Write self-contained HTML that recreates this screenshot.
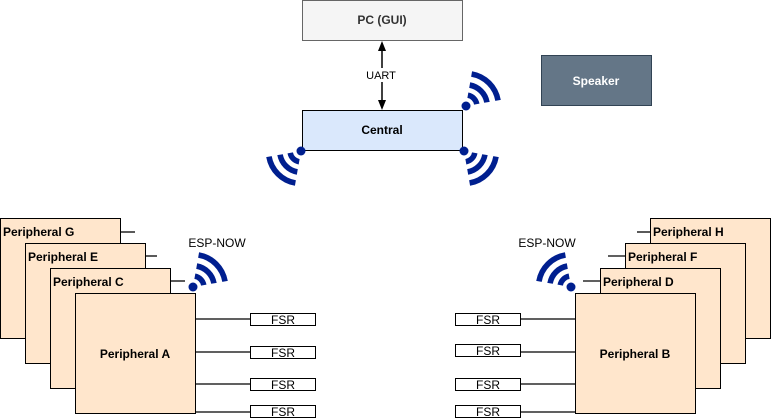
<!DOCTYPE html>
<html><head><meta charset="utf-8"><style>
body{margin:0;background:#fff;}
svg{display:block;font-family:"Liberation Sans",Arial,sans-serif;}
</style></head><body>
<svg width="771" height="420" viewBox="0 0 771 420" xmlns="http://www.w3.org/2000/svg">
<defs>
<g id="wifi">
<circle cx="0" cy="0" r="4.5" fill="#001f8f"/>
<g fill="none" stroke="#001f8f" stroke-width="5">
<path d="M1.7,-9.8 A10,10 0 0 1 9.8,-1.7" transform="scale(1.1)"/>
<path d="M3.3,-18.7 A19,19 0 0 1 18.7,-3.3" transform="scale(1.12)"/>
<path d="M5,-28.6 A29,29 0 0 1 28.6,-5" transform="scale(1.12)"/>
</g>
</g>
</defs>
<!-- PC -->
<rect x="302.5" y="0.5" width="160" height="40" fill="#f5f5f5" stroke="#666"/>
<text x="382" y="24" text-anchor="middle" font-size="12" font-weight="bold" fill="#333">PC (GUI)</text>
<!-- arrow -->
<line x1="382" y1="50" x2="382" y2="100" stroke="#000" stroke-width="1.5"/>
<path d="M382,41 L378,51 L386,51 Z" fill="#000"/>
<path d="M382,110 L378,100 L386,100 Z" fill="#000"/>
<rect x="364" y="68" width="34" height="14" fill="#fff"/>
<text x="381" y="79" text-anchor="middle" font-size="11">UART</text>
<!-- Central -->
<rect x="302.5" y="110.5" width="160" height="40" fill="#dae8fc" stroke="#000"/>
<text x="382" y="134" text-anchor="middle" font-size="12" font-weight="bold">Central</text>
<use href="#wifi" transform="translate(466,106)"/>
<use href="#wifi" transform="translate(301,151) rotate(180)"/>
<use href="#wifi" transform="translate(464,151) rotate(90)"/>
<!-- Speaker -->
<rect x="541.5" y="55.5" width="110" height="50" fill="#647687" stroke="#314354"/>
<text x="596" y="85" text-anchor="middle" font-size="12" font-weight="bold" fill="#fff">Speaker</text>
<!-- Left peripherals -->
<g stroke="#000" stroke-width="1.3">
<line x1="120" y1="232" x2="135" y2="232"/>
<line x1="145" y1="256" x2="157" y2="256"/>
<line x1="170" y1="281" x2="185" y2="281"/>
</g>
<g fill="#ffe6cc" stroke="#000">
<rect x="0.5" y="218.5" width="120" height="120"/>
<rect x="25.5" y="243.5" width="120" height="120"/>
<rect x="50.5" y="268.5" width="120" height="120"/>
<rect x="75.5" y="293.5" width="120" height="120"/>
</g>
<g font-size="12" font-weight="bold">
<text x="3" y="236">Peripheral G</text>
<text x="28" y="261">Peripheral E</text>
<text x="53" y="286">Peripheral C</text>
<text x="135" y="358" text-anchor="middle">Peripheral A</text>
</g>
<text x="217" y="247" text-anchor="middle" font-size="12">ESP-NOW</text>
<use href="#wifi" transform="translate(193,287)"/>
<g stroke="#000" stroke-width="1.3">
<line x1="196" y1="319" x2="250" y2="319"/>
<line x1="196" y1="352" x2="250" y2="352"/>
<line x1="196" y1="384" x2="250" y2="384"/>
<line x1="196" y1="412" x2="250" y2="412"/>
<line x1="520" y1="319" x2="575" y2="319"/>
<line x1="520" y1="352" x2="575" y2="352"/>
<line x1="520" y1="384" x2="575" y2="384"/>
<line x1="520" y1="412" x2="575" y2="412"/>
</g>
<g fill="#fff" stroke="#000">
<rect x="250.5" y="313.5" width="65" height="12"/>
<rect x="250.5" y="346.5" width="65" height="12"/>
<rect x="250.5" y="378.5" width="65" height="12"/>
<rect x="250.5" y="405.5" width="65" height="12"/>
<rect x="455.5" y="313.5" width="65" height="12"/>
<rect x="455.5" y="344.5" width="65" height="12"/>
<rect x="455.5" y="378.5" width="65" height="12"/>
<rect x="455.5" y="405.5" width="65" height="12"/>
</g>
<g font-size="12" text-anchor="middle">
<text x="283" y="324">FSR</text>
<text x="283" y="357">FSR</text>
<text x="283" y="389">FSR</text>
<text x="283" y="416">FSR</text>
<text x="488" y="324">FSR</text>
<text x="488" y="355">FSR</text>
<text x="488" y="389">FSR</text>
<text x="488" y="416">FSR</text>
</g>
<!-- Right peripherals -->
<g stroke="#000" stroke-width="1.3">
<line x1="637" y1="232" x2="650" y2="232"/>
<line x1="608" y1="256" x2="625" y2="256"/>
<line x1="583" y1="281" x2="600" y2="281"/>
</g>
<g fill="#ffe6cc" stroke="#000">
<rect x="650.5" y="218.5" width="120" height="120"/>
<rect x="625.5" y="243.5" width="120" height="120"/>
<rect x="600.5" y="268.5" width="120" height="120"/>
<rect x="575.5" y="293.5" width="120" height="120"/>
</g>
<g font-size="12" font-weight="bold">
<text x="653" y="236">Peripheral H</text>
<text x="628" y="261">Peripheral F</text>
<text x="603" y="286">Peripheral D</text>
<text x="635" y="358" text-anchor="middle">Peripheral B</text>
</g>
<text x="547" y="247" text-anchor="middle" font-size="12">ESP-NOW</text>
<use href="#wifi" transform="translate(571,287) rotate(-90)"/>
</svg>
</body></html>
